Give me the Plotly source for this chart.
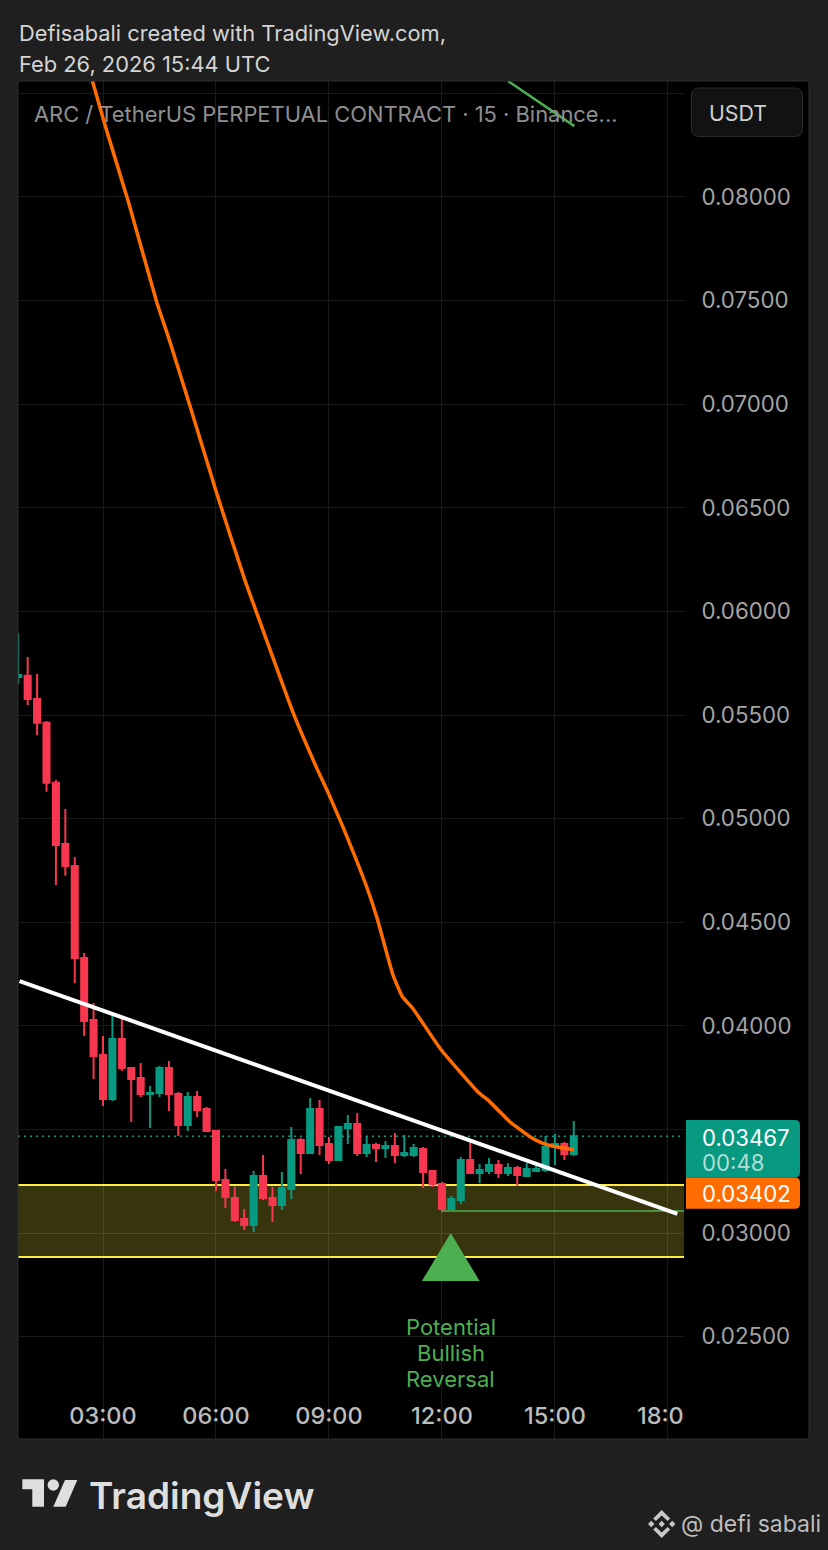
import pandas as pd
import plotly.graph_objects as go

W, H = 828, 1550
L, R, T, B = 18, 144, 81, 111

DAY = "2026-02-26 "
candle_times = pd.date_range(DAY + "00:45", periods=60, freq="15min")

opens = [.05683, .05690, .05577, .05463, .05173, .04877, .04771, .04327, .04028, .03859,
         .03647, .03936, .03796, .03748, .03671, .03676, .03796, .03671, .03521, .03656,
         .03598, .03492, .03256, .03169, .03068, .03039, .03275, .03169, .03135, .03212,
         .03449, .03386, .03598, .03430, .03352, .03507, .03526, .03386, .03425, .03410,
         .03420, .03376, .03376, .03405, .03299, .03236, .03116, .03159, .03352, .03290,
         .03299, .03328, .03290, .03314, .03275, .03299, .03304, .03415, .03430, .03381]
highs = [.05896, .05780, .05698, .05471, .05186, .05046, .04815, .04351, .04110, .03951,
         .04052, .04033, .03801, .03820, .03709, .03806, .03830, .03680, .03680, .03685,
         .03608, .03492, .03309, .03222, .03116, .03299, .03376, .03222, .03294, .03512,
         .03458, .03652, .03642, .03463, .03516, .03569, .03579, .03468, .03434, .03444,
         .03483, .03473, .03430, .03415, .03299, .03246, .03179, .03367, .03444, .03333,
         .03362, .03352, .03338, .03323, .03338, .03343, .03468, .03478, .03439, .03541]
lows = [.05649, .05548, .05403, .05130, .04679, .04724, .04207, .03951, .03743, .03613,
        .03637, .03782, .03536, .03656, .03507, .03656, .03589, .03468, .03492, .03560,
        .03487, .03203, .03121, .03053, .03014, .03005, .03159, .03053, .03111, .03164,
        .03285, .03381, .03376, .03333, .03347, .03430, .03372, .03367, .03343, .03362,
        .03338, .03367, .03367, .03217, .03222, .03101, .03116, .03140, .03285, .03241,
        .03285, .03265, .03275, .03227, .03275, .03299, .03294, .03328, .03352, .03372]
closes = [.05693, .05577, .05463, .05173, .04872, .04771, .04327, .04023, .03854, .03647,
          .03936, .03796, .03743, .03671, .03676, .03796, .03671, .03521, .03656, .03594,
          .03492, .03256, .03174, .03063, .03039, .03275, .03169, .03135, .03217, .03449,
          .03386, .03598, .03425, .03352, .03512, .03526, .03386, .03425, .03410, .03420,
          .03376, .03386, .03410, .03294, .03236, .03116, .03164, .03352, .03290, .03304,
          .03328, .03290, .03314, .03280, .03309, .03309, .03415, .03430, .03381, .03467]

ma_times = ["02:40", "03:04", "03:41", "04:26", "04:44", "05:19", "06:01", "06:46", "07:05",
            "08:03", "08:42", "08:58", "09:22", "10:00", "10:16", "10:42", "10:57", "11:13",
            "11:59", "12:57", "13:16", "13:48", "14:20", "14:40", "15:02", "15:23", "15:30"]
ma_values = [.08593, .08339, .07971, .07488, .07326, .06988, .06571, .06151, .05992,
             .05510, .05234, .05130, .04961, .04671, .04526, .04245, .04140, .04086,
             .03883, .03682, .03634, .03537, .03465, .03434, .03416, .03405, .03402]

trend_times = ["00:47", "18:15"]
trend_values = [.04216, .03092]
old_trend_times = ["13:45", "15:31"]
old_trend_values = [.08560, .08342]
signal_times = ["12:00", "18:26"]
signal_values = [.03106, .03106]
arrow_times = ["11:28", "12:14", "13:00"]
arrow_values = [.02768, .03000, .02768]

note_lines = ["Potential", "Bullish", "Reversal"]
note_values = [.02546, .02421, .02295]

# 0.085 and 0.035 keep their grid lines but sit behind the USDT button and the price tag
price_ticks = [.025, .03, .035, .04, .045, .05, .055, .06, .065, .07, .075, .08, .085]
price_labels = ["0.02500", "0.03000", "", "0.04000", "0.04500", "0.05000", "0.05500",
                "0.06000", "0.06500", "0.07000", "0.07500", "0.08000", ""]

zone_top, zone_bottom = .03232, .02884
last_price = .03467
x_range = [DAY + "00:44:35", DAY + "18:25:37"]
y_range = [.020058, .085598]

FONT = "Inter"
RED = "#F7374F"
TEAL = "#089981"
ORANGE = "#FF6D00"
GREEN = "#4CAF50"
YELLOW = "#FFEB3B"


def stamp(times):
    return [DAY + t for t in times]


# page pixels to paper coords
def fx(px):
    return (px - L) / (W - L - R)


def fy(py):
    return 1 - (py - T) / (H - T - B)


def poly(points):
    return "M " + " L ".join(f"{fx(x):.5f},{fy(y):.5f}" for x, y in points) + " Z"


def round_rect(x0, y0, x1, y1, r_left, r_right):
    return (f"M {fx(x0 + r_left):.5f},{fy(y0):.5f} L {fx(x1 - r_right):.5f},{fy(y0):.5f} "
            f"Q {fx(x1):.5f},{fy(y0):.5f} {fx(x1):.5f},{fy(y0 + r_right):.5f} "
            f"L {fx(x1):.5f},{fy(y1 - r_right):.5f} "
            f"Q {fx(x1):.5f},{fy(y1):.5f} {fx(x1 - r_right):.5f},{fy(y1):.5f} "
            f"L {fx(x0 + r_left):.5f},{fy(y1):.5f} "
            f"Q {fx(x0):.5f},{fy(y1):.5f} {fx(x0):.5f},{fy(y1 - r_left):.5f} "
            f"L {fx(x0):.5f},{fy(y0 + r_left):.5f} "
            f"Q {fx(x0):.5f},{fy(y0):.5f} {fx(x0 + r_left):.5f},{fy(y0):.5f} Z")


def paper_shape(path, fill, line=None, layer="above"):
    return dict(type="path", xref="paper", yref="paper", path=path, fillcolor=fill, layer=layer,
                line=dict(color=line or "rgba(0,0,0,0)", width=1 if line else 0))


def label(text, x, y, size, color, weight=400):
    # annotation boxes add about 2px of padding
    return dict(text=text, x=fx(x - 2), y=fy(y), xref="paper", yref="paper", showarrow=False,
                xanchor="left", yanchor="middle", font=dict(family=FONT, size=size, color=color, weight=weight))


fig = go.Figure()
fig.add_trace(go.Scatter(x=stamp(signal_times), y=signal_values, mode="lines",
                         line=dict(color=GREEN, width=1.5)))
fig.add_trace(go.Scatter(x=stamp(old_trend_times), y=old_trend_values, mode="lines",
                         line=dict(color=GREEN, width=2.5)))
fig.add_trace(go.Scatter(x=stamp(trend_times), y=trend_values, mode="lines",
                         line=dict(color="white", width=4)))
fig.add_trace(go.Scatter(x=stamp(ma_times), y=ma_values, mode="lines",
                         line=dict(color=ORANGE, width=3.5, shape="spline", smoothing=0.4)))
fig.add_trace(go.Scatter(x=stamp(arrow_times), y=arrow_values, mode="lines", fill="toself",
                         fillcolor=GREEN, line=dict(color=GREEN, width=0)))
fig.add_trace(go.Candlestick(
    x=candle_times, open=opens, high=highs, low=lows, close=closes, whiskerwidth=0,
    increasing=dict(line=dict(color=TEAL, width=2), fillcolor=TEAL),
    decreasing=dict(line=dict(color=RED, width=2), fillcolor=RED),
))

shapes = [
    # black price scale behind the tick labels
    paper_shape(poly([(684, 81), (809, 81), (809, 1439), (684, 1439)]), "#000000", layer="below"),
    dict(type="rect", xref="x", yref="y", x0=x_range[0], x1=x_range[1], y0=zone_bottom, y1=zone_top,
         fillcolor="rgba(255,235,59,0.22)", line_width=0, layer="between"),
    dict(type="line", xref="x", yref="y", x0=x_range[0], x1=x_range[1], y0=zone_top, y1=zone_top,
         line=dict(color=YELLOW, width=2), layer="between"),
    dict(type="line", xref="x", yref="y", x0=x_range[0], x1=x_range[1], y0=zone_bottom, y1=zone_bottom,
         line=dict(color=YELLOW, width=2), layer="between"),
    dict(type="line", xref="x", yref="y", x0=x_range[0], x1=x_range[1], y0=last_price, y1=last_price,
         line=dict(color=TEAL, width=1.5, dash="2px,4px"), layer="between"),
    # clips the last time label
    paper_shape(poly([(684, 1395), (720, 1395), (720, 1438), (684, 1438)]), "#000000"),
    paper_shape(poly([(18, 81), (809, 81), (809, 1439), (18, 1439)]), "rgba(0,0,0,0)", line="#303030"),
    paper_shape(round_rect(691.5, 88, 802.5, 136.5, 8, 8), "#121212", line="#2c2c2c"),
    paper_shape(round_rect(686, 1120, 800, 1177.5, 0, 5), TEAL),
    paper_shape(round_rect(686, 1177.5, 800, 1208.7, 0, 5), ORANGE),
    # TradingView logo
    paper_shape(poly([(22.3, 1479.3), (44, 1479.3), (44, 1506.7), (32.3, 1506.7), (32.3, 1489.3), (22.3, 1489.3)]), "#dedede"),
    paper_shape(poly([(65, 1480), (77.3, 1480), (65.7, 1506.7), (53.3, 1506.7)]), "#dedede"),
    dict(type="circle", xref="paper", yref="paper", x0=fx(47.6), x1=fx(59), y0=fy(1490.7), y1=fy(1479.3),
         fillcolor="#dedede", line_width=0),
]

# Binance mark
cx, cy = 661.7, 1524
for dx, dy, r in [(0, 0, 3.2), (-10.5, 0, 3.2), (10.5, 0, 3.2)]:
    shapes.append(paper_shape(poly([(cx + dx, cy + dy - r), (cx + dx + r, cy + dy),
                                    (cx + dx, cy + dy + r), (cx + dx - r, cy + dy)]), "#c8c8c8"))
for sign in (-1, 1):
    shapes.append(paper_shape(poly([(cx, cy + sign * 14), (cx + 8.5, cy + sign * 5.5), (cx + 5.8, cy + sign * 2.9),
                                    (cx, cy + sign * 8.6), (cx - 5.8, cy + sign * 2.9), (cx - 8.5, cy + sign * 5.5)]),
                              "#c8c8c8"))

annotations = [
    label("Defisabali created with TradingView.com,", 19, 33, 21.85, "#d4d4d4"),
    label("Feb 26, 2026 15:44 UTC", 19, 64, 21.85, "#d4d4d4"),
    label("ARC / TetherUS PERPETUAL CONTRACT · 15 · Binance...", 34, 114, 21.9, "#8f8f8f"),
    label("USDT", 709, 113, 21.3, "#d0d0d0"),
    label("0.03467", 702, 1137, 22.2, "#ffffff"),
    label("00:48", 702, 1162, 22.2, "#b4ddd4"),
    label("0.03402", 702, 1193, 22.2, "#ffffff"),
    label("TradingView", 89, 1495, 37, "#dedede", weight=600),
    label("@ defi sabali", 681, 1524, 23, "#bdbdbd"),
]
for line, value in zip(note_lines, note_values):
    annotations.append(dict(text=line, x=DAY + "12:14", y=value, xref="x", yref="y", showarrow=False,
                            xanchor="center", yanchor="middle", font=dict(family=FONT, size=22, color=GREEN)))

fig.update_layout(
    width=W, height=H, autosize=False, showlegend=False, hovermode=False,
    margin=dict(l=L, r=R, t=T, b=B, pad=0),
    paper_bgcolor="#1f1f1f", plot_bgcolor="#000000",
    boxgap=0.36, boxgroupgap=0, shapes=shapes, annotations=annotations,
)
fig.update_xaxes(
    type="date", range=x_range, rangeslider_visible=False, dtick=3 * 3600 * 1000,
    tick0=DAY + "00:00", tickformat="%H:%M", showgrid=True, gridcolor="#1a1a1a", gridwidth=1,
    zeroline=False, showline=False, ticks="inside", ticklen=12, tickcolor="rgba(0,0,0,0)",
    ticklabelposition="inside", ticklabeloverflow="allow",
    tickfont=dict(family=FONT, size=23.5, color="#bcbcbc", weight=500),
)
fig.update_yaxes(
    range=y_range, side="right", tickmode="array", tickvals=price_ticks, ticktext=price_labels,
    showgrid=True, gridcolor="#1a1a1a", gridwidth=1, zeroline=False, showline=False, ticks="outside",
    ticklen=12, tickcolor="rgba(0,0,0,0)", tickfont=dict(family=FONT, size=22.3, color="#a4a4a4"),
)
fig.write_html("out.html", config={"displayModeBar": False}, post_script="document.body.style.margin='0';")
